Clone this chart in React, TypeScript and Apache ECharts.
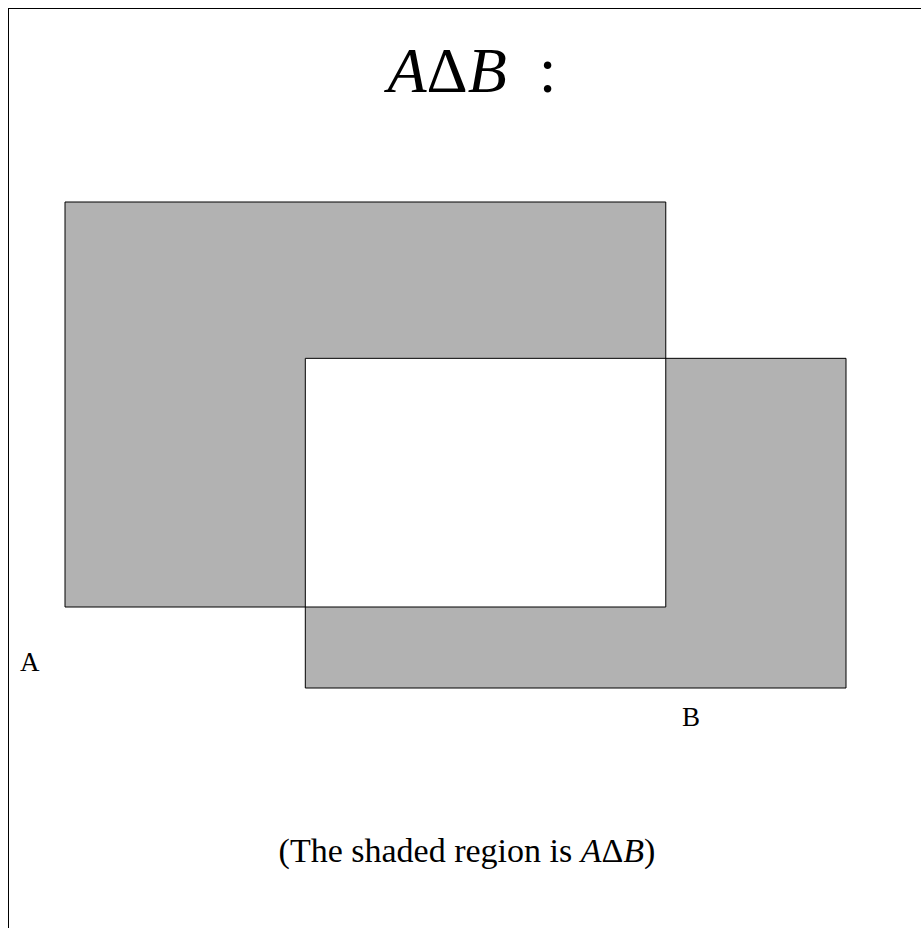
import React, { useEffect, useRef } from "react";
import * as echarts from "echarts";

// Rectangles as [x0, y0, x1, y1] in data units
const setNames = ["A", "B"];
const setA = [0, 2, 5, 7];
const setB = [2, 1, 6.5, 5.07];
const xRange = [0, 6.5];
const yRange = [1, 7];

const titleText = "{i|A}{n|Δ}{i|B}{n|\u2002:}";
const captionText = "{n|(The shaded region is }{i|A}{n|Δ}{i|B}{n|)}";

const SERIF = "'Liberation Serif', 'DejaVu Serif', serif";

function rectItem(api: any, fill: string, stroke: string | null) {
  const p0 = api.coord([api.value(0), api.value(3)]);
  const p1 = api.coord([api.value(2), api.value(1)]);
  return {
    type: "rect",
    shape: { x: p0[0], y: p0[1], width: p1[0] - p0[0], height: p1[1] - p0[1] },
    style: stroke
      ? { fill: "none", stroke, lineWidth: 1 }
      : { fill, stroke: "none" },
  };
}

export default function App() {
  const ref = useRef<HTMLDivElement>(null);
  useEffect(() => {
    if (!ref.current) return;
    const chart = echarts.init(ref.current, undefined, { renderer: "svg" });
    const inter = [
      Math.max(setA[0], setB[0]),
      Math.max(setA[1], setB[1]),
      Math.min(setA[2], setB[2]),
      Math.min(setA[3], setB[3]),
    ];
    const rich = {
      i: { fontFamily: SERIF, fontStyle: "italic" as const, fill: "#000" },
      n: { fontFamily: SERIF, fill: "#000" },
    };
    chart.setOption({
      animation: false,
      grid: { left: 56, top: 193, width: 781, height: 486 },
      xAxis: { type: "value", min: xRange[0], max: xRange[1], show: false },
      yAxis: { type: "value", min: yRange[0], max: yRange[1], show: false },
      series: [
        {
          type: "custom",
          coordinateSystem: "cartesian2d",
          data: [setA, setB],
          renderItem: (_p: any, api: any) => rectItem(api, "#b2b2b2", null),
          silent: true,
        },
        {
          type: "custom",
          coordinateSystem: "cartesian2d",
          data: [inter],
          renderItem: (_p: any, api: any) => rectItem(api, "#ffffff", null),
          silent: true,
        },
        {
          type: "custom",
          coordinateSystem: "cartesian2d",
          data: [setA, setB],
          renderItem: (_p: any, api: any) => rectItem(api, "none", "#000"),
          silent: true,
        },
      ],
      graphic: [
        {
          type: "text",
          x: 463,
          y: 93,
          style: {
            text: titleText,
            font: `64px ${SERIF}`,
            textAlign: "center",
            textVerticalAlign: "bottom",
            rich: {
              i: { ...rich.i, fontSize: 64 },
              n: { ...rich.n, fontSize: 64 },
            },
          },
        },
        {
          type: "text",
          x: 11,
          y: 666,
          style: {
            text: setNames[0],
            font: `27px ${SERIF}`,
            fill: "#000",
            textAlign: "left",
            textVerticalAlign: "bottom",
          },
        },
        {
          type: "text",
          x: 673,
          y: 721,
          style: {
            text: setNames[1],
            font: `27px ${SERIF}`,
            fill: "#000",
            textAlign: "left",
            textVerticalAlign: "bottom",
          },
        },
        {
          type: "text",
          x: 458,
          y: 858,
          style: {
            text: captionText,
            font: `34px ${SERIF}`,
            textAlign: "center",
            textVerticalAlign: "bottom",
            rich: {
              i: { ...rich.i, fontSize: 34 },
              n: { ...rich.n, fontSize: 34 },
            },
          },
        },
      ],
    });
    return () => chart.dispose();
  }, []);
  return (
    <div
      style={{
        position: "fixed",
        left: 8,
        top: 8,
        width: 913,
        height: 920,
        borderTop: "1px solid #000",
        borderLeft: "1px solid #000",
        boxSizing: "border-box",
        background: "#fff",
      }}
    >
      <div ref={ref} style={{ width: 912, height: 919 }} />
    </div>
  );
}
